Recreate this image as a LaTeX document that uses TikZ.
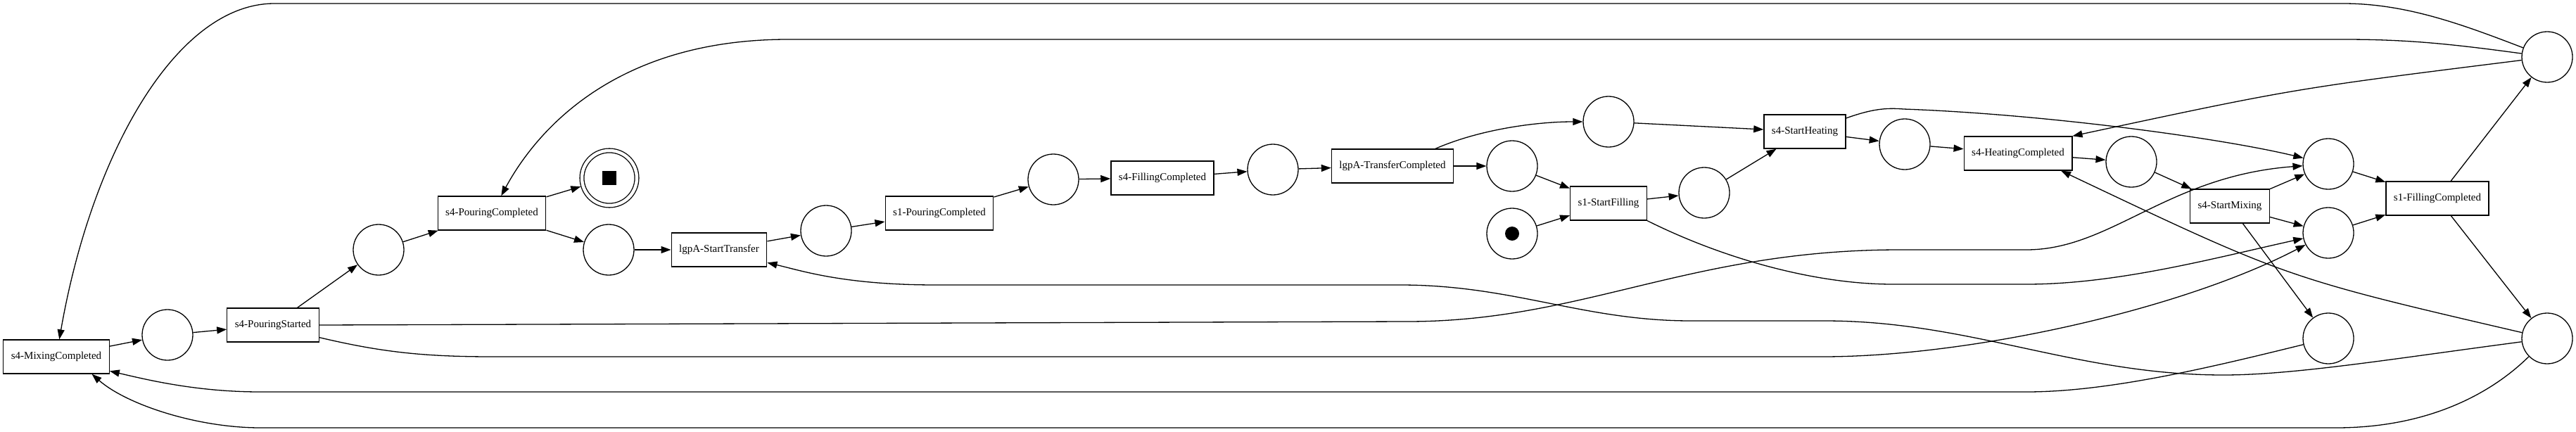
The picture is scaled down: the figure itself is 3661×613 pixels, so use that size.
\documentclass[tikz,border=0pt]{standalone}
\usepackage{fontspec}
\setmainfont{Liberation Serif}
\usepackage{tikz}
\usetikzlibrary{arrows.meta, positioning, calc}

\begin{document}
\begin{tikzpicture}[x=1pt, y=-1pt, line width=1.3pt,
    >={Triangle[length=14pt, width=10pt]},
    place/.style={circle, draw, minimum size=72pt, inner sep=0pt},
    trans/.style={rectangle, draw, minimum height=48pt, inner xsep=11pt,
      font=\fontsize{15pt}{18pt}\selectfont}]
          \useasboundingbox (0,0) rectangle (3661,613);

          % places and transitions
          \node[trans] (tmix) at (80,507) {s4-MixingCompleted};
          \node[place] (p1) at (238,476) {};
          \node[trans] (tpour) at (388,462) {s4-PouringStarted};
          \node[place] (p2) at (538,355) {};
          \node[trans] (tpourc) at (699,303) {s4-PouringCompleted};
          \node[place, double, double distance=4.5pt, minimum size=78pt, outer sep=3.5pt] (pend) at (866,253) {};
          \node[fill, minimum size=20pt, inner sep=0pt] (pendmark) at (pend) {};
          \node[place] (p3) at (865,355) {};
          \node[trans] (tstart) at (1022,355) {lgpA-StartTransfer};
          \node[place] (p4) at (1174,328) {};
          \node[trans] (ts1pour) at (1335,303) {s1-PouringCompleted};
          \node[place] (p5) at (1497,255) {};
          \node[trans] (tfill) at (1652,253) {s4-FillingCompleted};
          \node[place] (p6) at (1809,241) {};
          \node[trans] (ttrans) at (1979,236) {lgpA-TransferCompleted};
          \node[place] (p7) at (2286,173) {};
          \node[place] (p8) at (2149,236) {};
          \node[place] (p0) at (2149,332) {};
          \node[circle, fill, minimum size=20pt, inner sep=0pt] (tok) at (p0) {};
          \node[trans] (ts1fill) at (2286,289) {s1-StartFilling};
          \node[place] (p9) at (2422,274) {};
          \node[trans] (theat) at (2565,187) {s4-StartHeating};
          \node[place] (p10) at (2707,205) {};
          \node[trans] (theatc) at (2868,218) {s4-HeatingCompleted};
          \node[place] (p11) at (3029,230) {};
          \node[trans] (tmixs) at (3169,293) {s4-StartMixing};
          \node[place] (p12) at (3309,233) {};
          \node[place] (p13) at (3309,331) {};
          \node[place] (p14) at (3309,481) {};
          \node[trans] (ts1fillc) at (3464,282) {s1-FillingCompleted};
          \node[place] (p15) at (3620,81) {};
          \node[place] (p16) at (3620,481) {};

          % short arcs
          \draw[->] (tmix) -- (p1);
          \draw[->] (p1) -- (tpour);
          \draw[->] (tpour) -- (p2);
          \draw[->] (p2) -- (tpourc);
          \draw[->] (tpourc) -- (pend);
          \draw[->] (tpourc) -- (p3);
          \draw[->] (p3) -- (tstart);
          \draw[->] (tstart) -- (p4);
          \draw[->] (p4) -- (ts1pour);
          \draw[->] (ts1pour) -- (p5);
          \draw[->] (p5) -- (tfill);
          \draw[->] (tfill) -- (p6);
          \draw[->] (p6) -- (ttrans);
          \draw[->] (ttrans.22) .. controls (2100,185) and (2180,173) .. (p7);
          \draw[->] (ttrans) -- (p8);
          \draw[->] (p8) -- (ts1fill);
          \draw[->] (p0) -- (ts1fill);
          \draw[->] (ts1fill) -- (p9);
          \draw[->] (p7) -- (theat);
          \draw[->] (p9) -- (theat);
          \draw[->] (theat) -- (p10);
          \draw[->] (p10) -- (theatc);
          \draw[->] (theatc) -- (p11);
          \draw[->] (p11) -- (tmixs);
          \draw[->] (tmixs) -- (p12);
          \draw[->] (tmixs) -- (p13);
          \draw[->] (tmixs) -- (p14);
          \draw[->] (p12) -- (ts1fillc);
          \draw[->] (p13) -- (ts1fillc);
          \draw[->] (ts1fillc) -- (p15);
          \draw[->] (ts1fillc) -- (p16);

          % long arcs
          \draw[->] (theat.18) .. controls (2660,155) and (2680,153) .. (2705,155)
            .. controls (2900,162) and (3150,195) .. (p12);
          \draw[->] (ts1fill.south east) .. controls (2450,368) and (2580,404) .. (2690,404)
            -- (2880,404) .. controls (3010,404) and (3150,366) .. (p13);
          \draw[->] (tpour.east) -- (2000,457) .. controls (2250,457) and (2400,355) .. (2700,355)
            -- (2880,355) .. controls (3000,355) and (3080,250) .. (p12);
          \draw[->] (tpour.-15) .. controls (540,500) and (600,507) .. (700,507)
            -- (2590,507) .. controls (2800,507) and (3100,440) .. (p13);
          \draw[->] (p15) .. controls (3500,35) and (3420,5) .. (3330,5)
            -- (390,5) .. controls (250,5) and (130,220) .. (tmix);
          \draw[->] (p15) .. controls (3480,62) and (3420,56) .. (3330,56)
            -- (1120,56) .. controls (870,56) and (760,190) .. (tpourc);
          \draw[->] (p15) .. controls (3260,126) .. (theatc.north east);
          \draw[->] (p16) .. controls (3250,395) .. (theatc.-22);
          \draw[->] (p16) .. controls (3400,510) and (3260,533) .. (3160,533)
            .. controls (2950,533) and (2800,456) .. (2593,456) -- (2403,456)
            .. controls (2250,456) and (2150,405) .. (1990,405) -- (1330,405)
            .. controls (1200,405) and (1140,385) .. (tstart.-15);
          \draw[->] (p16) .. controls (3540,560) and (3450,608) .. (3320,608)
            -- (370,608) .. controls (280,608) and (180,575) .. (tmix.-26);
          \draw[->] (p14) .. controls (3150,520) and (3000,557) .. (2880,557)
            -- (370,557) .. controls (280,557) and (210,540) .. (tmix.-15);
        \end{tikzpicture}
\end{document}
